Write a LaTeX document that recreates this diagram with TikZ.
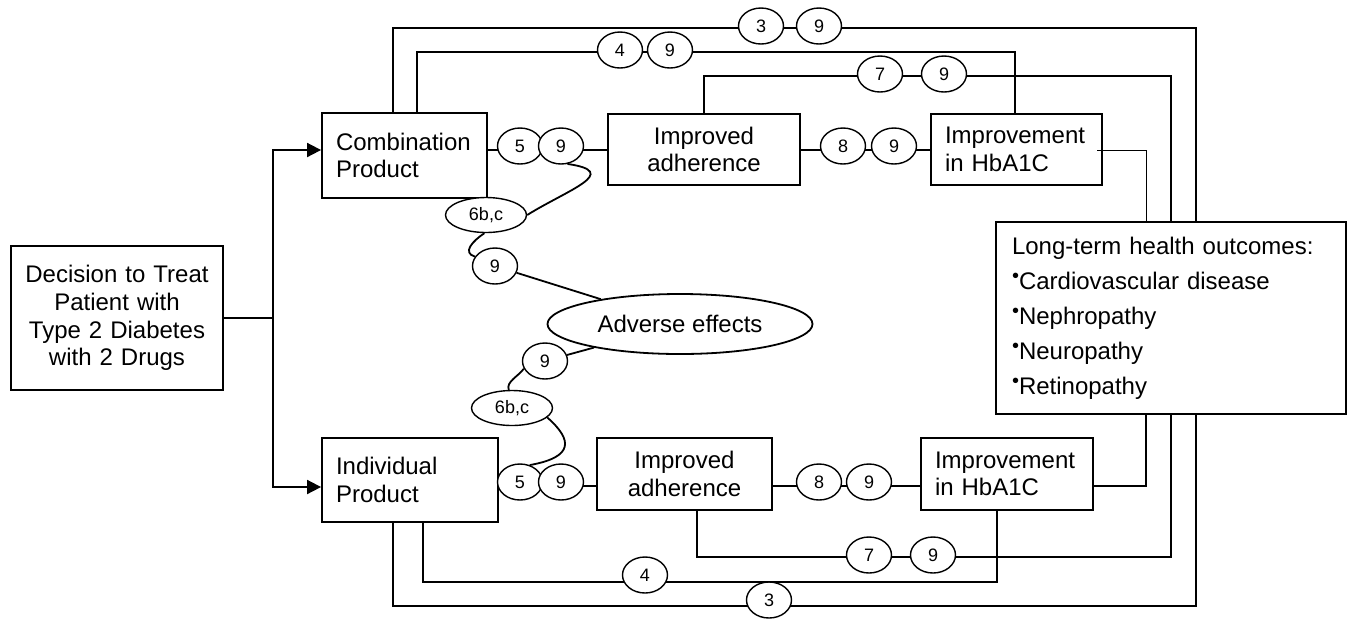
\documentclass[tikz,border=0pt]{standalone}
\usepackage{fontspec}
\setmainfont{Liberation Sans}
\usetikzlibrary{arrows.meta}
\usetikzlibrary{shapes.geometric}

\newcommand{\dotmark}{\raisebox{3.2pt}{\fontsize{10}{10}\selectfont\textbullet}}

\begin{document}
\begin{tikzpicture}[
      x=0.5pt, y=-0.5pt,
      line width=0.9pt,
      mybox/.style={draw, inner xsep=7pt, inner ysep=0pt, font=\fontsize{12}{13.8}\selectfont},
      tag/.style={draw, ellipse, fill=white, inner sep=0pt, minimum width=22.5pt, minimum height=18pt, line width=0.7pt, font=\fontsize{9}{10}\selectfont},
      widetag/.style={tag, minimum width=40.5pt, minimum height=17.5pt},
      arr/.style={-{Triangle[length=7pt,width=7pt]}}
      ]
      \useasboundingbox (0,0) rectangle (1351,618);

      \node[mybox, align=center, text width=92pt, minimum height=72pt] (dec) at (117,318) {Decision to Treat\\Patient with\\Type 2 Diabetes\\with 2 Drugs};
      \node[mybox, align=left, text width=68.5pt, minimum height=42.5pt] (comb) at (404.5,155.5) {Combination\\Product};
      \node[mybox, align=left, text width=74pt, minimum height=42pt] (indiv) at (410,480) {Individual\\Product};
      \node[mybox, align=center, text width=82pt, minimum height=35.5pt] (adhT) at (704,149.5) {Improved\\adherence};
      \node[mybox, align=center, text width=73.5pt, minimum height=36pt] (adhB) at (684.5,474) {Improved\\adherence};
      \node[mybox, align=left, text width=71.5pt, minimum height=35.5pt] (hbaT) at (1016.5,149.5) {Improvement\\in HbA1C};
      \node[mybox, align=left, text width=72pt, minimum height=36pt] (hbaB) at (1007,474) {Improvement\\in HbA1C};
      \node[mybox, align=left, inner xsep=8pt, text width=159pt, minimum height=96pt, font=\fontsize{12}{17.5}\selectfont] (lto) at (1171,318)
            {Long-term health outcomes:\\\dotmark Cardiovascular disease\\\dotmark Nephropathy\\\dotmark Neuropathy\\\dotmark Retinopathy};
      \node[draw, ellipse, minimum width=132.5pt, minimum height=30pt, inner sep=0pt, font=\fontsize{12}{14}\selectfont] (adv) at (680,324) {Adverse effects};

      % corners of the links
      \coordinate (split) at (273,318);
      \coordinate (rowT) at (0,150);
      \coordinate (rowB) at (0,486);
      \coordinate (hTs) at (1097,150);
      \coordinate (hT) at (1146,150);
      \coordinate (hB) at (1146,486);
      \coordinate (k3T) at (393,28);  \coordinate (k3Tr) at (1196,28);
      \coordinate (k4T) at (417,52);  \coordinate (k4Tr) at (1015,52);
      \coordinate (k7T) at (704,76);  \coordinate (k7Tr) at (1171,76);
      \coordinate (k3B) at (393,606); \coordinate (k3Br) at (1196,606);
      \coordinate (k4B) at (423,582); \coordinate (k4Br) at (997,582);
      \coordinate (k7B) at (697,557); \coordinate (k7Br) at (1171,557);

      \draw (dec.east) -- (split);
      \draw[arr] (split) |- ([yshift=2.75pt]comb.west);
      \draw[arr] (split) |- ([yshift=-3.5pt]indiv.west);

      \draw (comb.north -| k3T) -- (k3T) -- (k3Tr) -- (lto.north -| k3Tr);
      \draw (comb.north -| k4T) -- (k4T) -- (k4Tr) -- (hbaT.north -| k4Tr);
      \draw (adhT.north -| k7T) -- (k7T) -- (k7Tr) -- (lto.north -| k7Tr);
      \draw (comb.east |- rowT) -- (adhT.west |- rowT);
      \draw (adhT.east |- rowT) -- (hbaT.west |- rowT);
      \draw[thin] (hTs) -| (lto.north -| hT);

      \draw (indiv.east |- rowB) -- (adhB.west |- rowB);
      \draw (adhB.east |- rowB) -- (hbaB.west |- rowB);
      \draw (hbaB.east |- rowB) -| (lto.south -| hB);
      \draw (indiv.south -| k3B) -- (k3B) -- (k3Br) -- (lto.south -| k3Br);
      \draw (indiv.south -| k4B) -- (k4B) -- (k4Br) -- (hbaB.south -| k4Br);
      \draw (adhB.south -| k7B) -- (k7B) -- (k7Br) -- (lto.south -| k7Br);

      % numbered tags
      \node[tag] (t3) at (761,26) {3};
      \node[tag] (t3n) at (819,26) {9};
      \node[tag] (t4) at (620,50) {4};
      \node[tag] (t4n) at (670,50) {9};
      \node[tag] (t7) at (880,74) {7};
      \node[tag] (t7n) at (944,74) {9};
      \node[tag] (t5) at (520,146) {5};
      \node[tag] (t5n) at (561,146) {9};
      \node[tag] (t8) at (843,146) {8};
      \node[tag] (t8n) at (894,146) {9};

      \node[tag] (b5) at (520,482) {5};
      \node[tag] (b5n) at (561,482) {9};
      \node[tag] (b8) at (819,482) {8};
      \node[tag] (b8n) at (869,482) {9};
      \node[tag] (b7) at (869,555) {7};
      \node[tag] (b7n) at (933,555) {9};
      \node[tag] (b4) at (645,575) {4};
      \node[tag] (b3) at (769,600) {3};

      \node[widetag] (e6T) at (486,215) {6b,c};
      \node[tag] (t9c) at (495,266) {9};
      \node[tag] (t9d) at (545,361) {9};
      \node[widetag] (e6B) at (512,408) {6b,c};

      % adverse effects chain
      \draw (t5n.-70) .. controls +(55,8) and +(40,-25) .. (e6T.east);
      \draw (e6T.-95) .. controls +(-12,8) and +(-13,-4) .. (t9c.155);
      \draw (t9c) -- (adv);
      \draw (adv) -- (t9d);
      \draw (t9d.200) .. controls +(-6,8) and +(-3,-8) .. (e6B.100);
      \draw (e6B.-15) .. controls +(25,22) and +(45,-8) .. (b5.60);
\end{tikzpicture}
\end{document}
